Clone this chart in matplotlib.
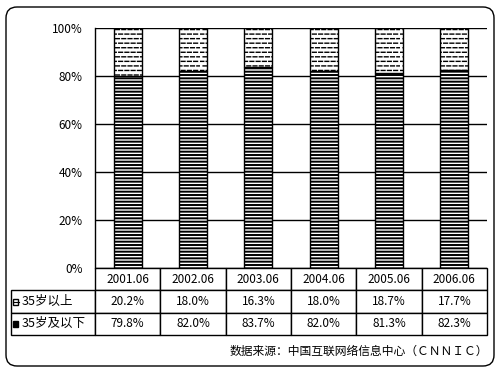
import warnings
import numpy as np
import matplotlib
matplotlib.use("Agg")
import matplotlib.pyplot as plt
import matplotlib.hatch as mhatch
from matplotlib.path import Path
from matplotlib.patches import FancyBboxPatch, Rectangle

warnings.filterwarnings("ignore")
plt.rcParams['font.family'] = ['Noto Sans CJK SC', 'DejaVu Sans']

# ---- data ----
periods = ["2001.06", "2002.06", "2003.06", "2004.06", "2005.06", "2006.06"]
series_names = ["35岁以上", "35岁及以下"]
above35 = [20.2, 18.0, 16.3, 18.0, 18.7, 17.7]
below35 = [79.8, 82.0, 83.7, 82.0, 81.3, 82.3]
yticks = [0, 20, 40, 60, 80, 100]
source = "数据来源：中国互联网络信息中心（ＣＮＮＩＣ）"


# ---- custom dashed hatch ('d') ----
class DashedHatch(mhatch.HatchPatternBase):
    def __init__(self, hatch, density):
        if 'd' in hatch:
            self.rows = 22
            self.cols = 16
        else:
            self.rows = 0
            self.cols = 0
        self.num_lines = self.rows * self.cols
        self.num_vertices = self.num_lines * 2

    def set_vertices_and_codes(self, vertices, codes):
        k = 0
        for i in range(self.rows):
            y = (i + 0.5) / self.rows
            off = 0.5 * (i % 2)
            for j in range(self.cols):
                x0 = (j + off) / self.cols
                x1 = x0 + 0.6 / self.cols
                vertices[k] = (x0, y)
                vertices[k + 1] = (min(x1, 1.0), y)
                codes[k] = Path.MOVETO
                codes[k + 1] = Path.LINETO
                k += 2


if DashedHatch not in mhatch._hatch_types:
    mhatch._hatch_types.append(DashedHatch)

W, H = 501, 372
fig = plt.figure(figsize=(W / 100, H / 100), dpi=100)

# rounded outer frame
frame = FancyBboxPatch((6 / W, 6 / H), 488 / W, 359 / H,
                       boxstyle="round,pad=0,rounding_size=0.022",
                       mutation_aspect=W / H,
                       transform=fig.transFigure, facecolor='none',
                       edgecolor='black', linewidth=1.0, zorder=-1)
fig.patches.append(frame)

ax_l, ax_r, ax_t, ax_b = 95, 487, 28, 268
ax = fig.add_axes([ax_l / W, (H - ax_b) / H, (ax_r - ax_l) / W, (ax_b - ax_t) / H])
ax.set_facecolor('none')

x = np.arange(len(periods))
bw = 0.43

plt.rcParams['hatch.linewidth'] = 1.4
b1 = ax.bar(x, below35, width=bw, color='white', edgecolor='black',
            hatch='-----', linewidth=1.0, zorder=3)
plt.rcParams['hatch.linewidth'] = 1.0
b2 = ax.bar(x, above35, bottom=below35, width=bw, color='white',
            edgecolor='black', hatch='d', linewidth=1.0, zorder=3)

ax.set_xlim(-0.5, len(periods) - 0.5)
ax.set_ylim(0, 100)
ax.set_yticks(yticks)
ax.set_yticklabels([f"{v}%" for v in yticks], fontsize=8.5)
ax.tick_params(axis='y', length=0, pad=9)
ax.set_xticks([])
ax.yaxis.grid(True, color='black', linewidth=1.0)
ax.set_axisbelow(True)
for s in ['top', 'right', 'bottom']:
    ax.spines[s].set_visible(False)
ax.spines['left'].set_linewidth(1.0)

# ---- data table ----
cell_text = [[f"{v:.1f}%" for v in above35],
             [f"{v:.1f}%" for v in below35]]
ax_w = ax_r - ax_l
ax_h = ax_b - ax_t
tbl_left = 11
tbl_bottom = 335
rl_w = (ax_l - tbl_left) / ax_w
tbl_h = (tbl_bottom - ax_b) / ax_h
tbl = ax.table(cellText=cell_text, rowLabels=series_names, colLabels=periods,
               colWidths=[1 / 6] * 6,
               cellLoc='center', rowLoc='left', colLoc='center',
               bbox=[0, -tbl_h, 1, tbl_h])
tbl._autoColumns = []
tbl.auto_set_font_size(False)
tbl.set_fontsize(8.5)
for (r, c), cell in tbl.get_celld().items():
    cell.set_linewidth(1.0)
    cell.set_edgecolor('black')
    cell.set_height(tbl_h / 3)
    if c == -1:
        cell.set_width(rl_w)
        cell.PAD = 0.125
        cell.get_text().set_fontsize(9)

# legend keys in row label cells
row_centers = [301.7, 323.8]
key_px = 6.0
key_x = 12.5
for yc, hatch in zip(row_centers, ['d', '-----']):
    rect = Rectangle(((key_x - ax_l) / ax_w, (ax_b - yc - key_px / 2) / ax_h),
                     key_px / ax_w, key_px / ax_h, transform=ax.transAxes,
                     facecolor='black' if hatch != 'd' else 'white',
                     edgecolor='black', linewidth=1.0, clip_on=False, zorder=5)
    ax.add_patch(rect)
    if hatch == 'd':
        ax.plot([(key_x - ax_l) / ax_w, (key_x + key_px - ax_l) / ax_w],
                [(ax_b - yc) / ax_h] * 2, transform=ax.transAxes,
                color='black', linewidth=0.8, clip_on=False, zorder=6)

fig.text(488 / W, (H - 351) / H, source, ha='right', va='center', fontsize=8.5)

fig.savefig("out.png", dpi=100)
